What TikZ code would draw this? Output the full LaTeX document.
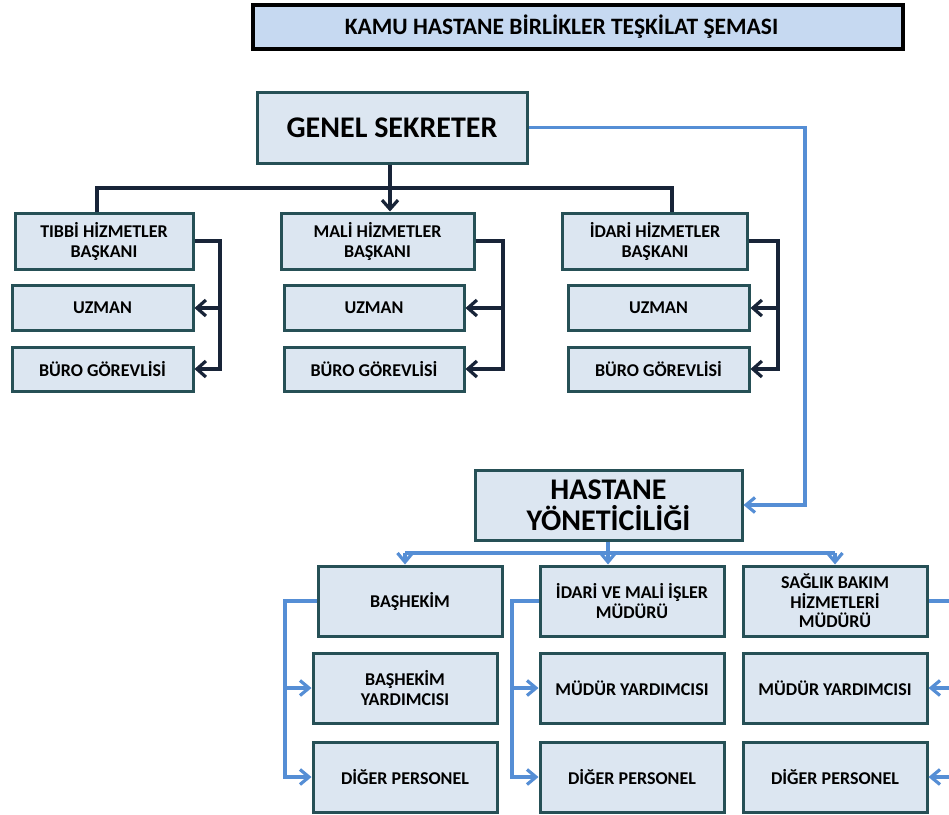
\documentclass[tikz,border=0pt]{standalone}
\usepackage{fontspec}
\setmainfont{Carlito}
\usetikzlibrary{arrows.meta}
\definecolor{boxfill}{RGB}{220,230,241}
\definecolor{titlefill}{RGB}{198,217,241}
\definecolor{boxline}{RGB}{38,80,86}
\definecolor{darkline}{RGB}{24,36,56}
\definecolor{blueline}{RGB}{85,142,213}
\tikzset{
  orgbox/.style={draw=boxline,fill=boxfill,line width=3pt,inner sep=0pt,align=center,font=\bfseries\fontsize{18}{20}\selectfont},
  bigbox/.style={orgbox,font=\bfseries\fontsize{30}{31}\selectfont},
  titlebox/.style={draw=black,fill=titlefill,line width=3.2pt,inner sep=0pt,font=\bfseries\fontsize{23.5}{26}\selectfont},
  dk/.style={draw=darkline,line width=3.2pt},
  bl/.style={draw=blueline,line width=3.2pt},
  dkarrow/.style={dk,-{Straight Barb[length=9pt,width=16pt]}},
  blarrow/.style={bl,-{Straight Barb[length=9pt,width=15pt]}},
}
\begin{document}
\begin{tikzpicture}[x=1pt,y=-1pt]
\useasboundingbox[fill=white] (0,0) rectangle (949,814);
% title
\node[titlebox,minimum width=650,minimum height=44] (title) at (578,27) {KAMU HASTANE BİRLİKLER TEŞKİLAT ŞEMASI\hspace*{33pt}};
% upper part
\node[bigbox,minimum width=270,minimum height=71] (gs) at (392,127.5) {GENEL SEKRETER};
\node[orgbox,minimum width=178,minimum height=56] (tib) at (104,241) {TIBBİ HİZMETLER\\BAŞKANI};
\node[orgbox,minimum width=193,minimum height=56] (mal) at (377.5,241) {MALİ HİZMETLER\\BAŞKANI};
\node[orgbox,minimum width=185,minimum height=56] (idr) at (655,241) {İDARİ HİZMETLER\\BAŞKANI};
\node[orgbox,minimum width=181,minimum height=45] (uz1) at (102.5,308) {UZMAN};
\node[orgbox,minimum width=180,minimum height=45] (uz2) at (374,308) {UZMAN};
\node[orgbox,minimum width=181,minimum height=45] (uz3) at (658.5,308) {UZMAN};
\node[orgbox,minimum width=181,minimum height=44] (bu1) at (102.5,369) {BÜRO GÖREVLİSİ};
\node[orgbox,minimum width=180,minimum height=44] (bu2) at (374,369) {BÜRO GÖREVLİSİ};
\node[orgbox,minimum width=181,minimum height=44] (bu3) at (658.5,369) {BÜRO GÖREVLİSİ};
% lower part
\node[bigbox,minimum width=267,minimum height=70] (has) at (608.5,505) {HASTANE\\YÖNETİCİLİĞİ};
\node[orgbox,minimum width=184,minimum height=70] (bas) at (410,601) {BAŞHEKİM};
\node[orgbox,minimum width=184,minimum height=70] (imm) at (632,601) {İDARİ VE MALİ İŞLER\\MÜDÜRÜ};
\node[orgbox,minimum width=184,minimum height=70,font=\bfseries\fontsize{18}{19.5}\selectfont] (sag) at (835,601) {SAĞLIK BAKIM\\HİZMETLERİ\\MÜDÜRÜ};
\node[orgbox,minimum width=184,minimum height=70] (by) at (405,688) {BAŞHEKİM\\YARDIMCISI};
\node[orgbox,minimum width=184,minimum height=70] (my1) at (632,688) {MÜDÜR YARDIMCISI};
\node[orgbox,minimum width=184,minimum height=70] (my2) at (835,688) {MÜDÜR YARDIMCISI};
\node[orgbox,minimum width=184,minimum height=70] (dp1) at (405,777) {DİĞER PERSONEL};
\node[orgbox,minimum width=184,minimum height=70] (dp2) at (632,777) {DİĞER PERSONEL};
\node[orgbox,minimum width=184,minimum height=70] (dp3) at (835,777) {DİĞER PERSONEL};
% dark connectors
\coordinate (busL) at (97,188);
\coordinate (busM) at (390,188);
\coordinate (busR) at (672,188);
\draw[dk] (gs.south -| busM) -- (busM);
\draw[dk] (tib.north -| busL) -- (busL) -- (busR) -- (idr.north -| busR);
\draw[dkarrow] (busM) -- (mal.north -| busM);
\coordinate (v1) at (220,0);
\coordinate (v2) at (503,0);
\coordinate (v3) at (778,0);
\draw[dkarrow] (tib.east) -| (v1 |- bu1.east) -- (bu1.east);
\draw[dkarrow] (v1 |- uz1.east) -- (uz1.east);
\draw[dkarrow] (mal.east) -| (v2 |- bu2.east) -- (bu2.east);
\draw[dkarrow] (v2 |- uz2.east) -- (uz2.east);
\draw[dkarrow] (idr.east) -| (v3 |- bu3.east) -- (bu3.east);
\draw[dkarrow] (v3 |- uz3.east) -- (uz3.east);
% blue connectors
\coordinate (bv) at (805,0);
\draw[blarrow] (gs.east) -| (bv |- has.east) -- (has.east);
\coordinate (hb) at (608,553);
\coordinate (hbL) at (405,553);
\coordinate (hbR) at (835,553);
\draw[bl] (has.south -| hb) -- (hb);
\draw[bl] (hbL) -- (hbR);
\draw[blarrow] (hbL) -- (bas.north -| hbL);
\draw[blarrow] (hb) -- (imm.north -| hb);
\draw[blarrow] (hbR) -- (sag.north -| hbR);
\coordinate (w1) at (285,0);
\coordinate (w2) at (512,0);
\coordinate (w3) at (956,0);
\draw[blarrow] (bas.west) -| (w1 |- dp1.west) -- (dp1.west);
\draw[blarrow] (w1 |- by.west) -- (by.west);
\draw[blarrow] (imm.west) -| (w2 |- dp2.west) -- (dp2.west);
\draw[blarrow] (w2 |- my1.west) -- (my1.west);
\draw[blarrow] (sag.east) -| (w3 |- dp3.east) -- (dp3.east);
\draw[blarrow] (w3 |- my2.east) -- (my2.east);
\end{tikzpicture}
\end{document}
